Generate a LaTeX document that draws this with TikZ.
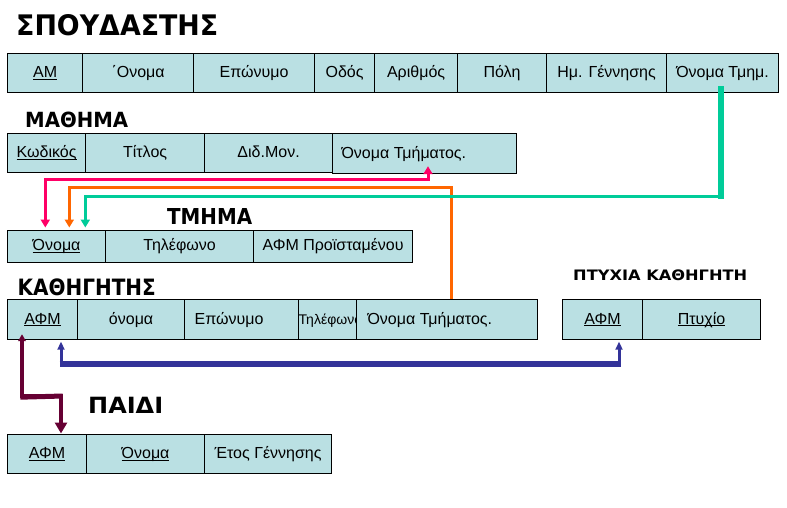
\documentclass[tikz,border=0pt]{standalone}
\usepackage{fontspec}
\usepackage{graphicx}
\setmainfont{Liberation Sans}
\newfontfamily\ttlfont{DejaVu Sans}
\usetikzlibrary{arrows.meta,calc}
\definecolor{cellfill}{RGB}{186,224,227}
\definecolor{pinkc}{RGB}{255,0,102}
\definecolor{orangec}{RGB}{255,102,0}
\definecolor{greenc}{RGB}{0,204,153}
\definecolor{bluec}{RGB}{51,51,153}
\definecolor{maroonc}{RGB}{102,0,51}
\newsavebox\undlbox
\newcommand\undl[1]{\sbox\undlbox{#1}\rlap{\rule[-2.2pt]{\wd\undlbox}{1pt}}\usebox\undlbox}
\newcommand\tcell[7]{\node[cell, anchor=north west, minimum width={(#4-#2)*1pt}, minimum height={(#5-#3)*1pt}] (#1) at (#2,#3) {\makebox[\dimexpr #4pt-#2pt-12pt\relax][#6]{#7}};}
\tikzset{
  cell/.style={draw=black, line width=1.2pt, fill=cellfill, inner xsep=6pt, inner ysep=0pt,
    text height=12.5pt, text depth=3.5pt, font=\fontsize{16}{18}\selectfont},
  ttl/.style={inner sep=0pt, anchor=base west, font=\ttlfont\bfseries},
  conn/.style={line width=3pt},
  tipA/.style={},
}
\begin{document}
\begin{tikzpicture}[x=1pt,y=-1pt]
\path[fill=white] (0,0) rectangle (787,507);
\useasboundingbox (0,0) rectangle (787,507);

% titles
\node[ttl] (tstud) at (16,35) {\resizebox{202pt}{21pt}{ΣΠΟΥΔΑΣΤΗΣ}};
\node[ttl] (tmath) at (25,127.3) {\resizebox{103pt}{15.5pt}{ΜΑΘΗΜΑ}};
\node[ttl] (ttmim) at (167,224.3) {\resizebox{85pt}{16pt}{ΤΜΗΜΑ}};
\node[ttl] (tkath) at (17.5,295) {\resizebox{138pt}{16.7pt}{ΚΑΘΗΓΗΤΗΣ}};
\node[ttl] (tptyx) at (573,280.7) {\resizebox{174pt}{10.7pt}{ΠΤΥΧΙΑ ΚΑΘΗΓΗΤΗ}};
\node[ttl] (tpaid) at (88,413) {\resizebox{75pt}{16.3pt}{ΠΑΙΔΙ}};

% ΣΠΟΥΔΑΣΤΗΣ
\tcell{s1}{7}{53}{82}{92}{c}{\undl{ΑΜ}}
\tcell{s2}{82}{53}{193}{92}{c}{΄Ονομα}
\tcell{s3}{193}{53}{314}{92}{c}{Επώνυμο}
\tcell{s4}{314}{53}{374}{92}{c}{Οδός}
\tcell{s5}{374}{53}{457}{92}{c}{Αριθμός}
\tcell{s6}{457}{53}{546}{92}{c}{Πόλη}
\tcell{s7}{546}{53}{666}{92}{c}{Ημ. Γέννησης}
\tcell{s8}{666}{53}{778}{92}{c}{Όνομα Τμημ.}

% ΜΑΘΗΜΑ
\tcell{m1}{7}{133}{85}{172}{c}{\undl{Κωδικός}}
\tcell{m2}{85}{133}{204}{172}{c}{Τίτλος}
\tcell{m3}{204}{133}{332}{172}{c}{Διδ.Μον.}
\tcell{m4}{332}{133}{516}{173}{l}{\hspace{3pt}Όνομα Τμήματος.}

% ΤΜΗΜΑ
\tcell{t1}{7}{229.5}{105}{261.5}{c}{\undl{Όνομα}}
\tcell{t2}{105}{229.5}{253}{261.5}{c}{Τηλέφωνο}
\tcell{t3}{253}{229.5}{412}{261.5}{c}{ΑΦΜ Προϊσταμένου}

% ΚΑΘΗΓΗΤΗΣ
\tcell{k1}{7}{299}{77}{339}{c}{\undl{ΑΦΜ}}
\tcell{k2}{77}{299}{184}{339}{c}{όνομα}
\tcell{k3}{184}{299}{298}{339}{l}{\hspace{4pt}Επώνυμο}
\tcell{k4}{298}{299}{356}{339}{l}{}
\begin{scope}
\clip (k4.north west) rectangle (k4.south east);
\node[inner sep=0pt, anchor=base west, font=\fontsize{14}{16}\selectfont] (k4t) at ($(k4.west)+(0.5,5)$) {Τηλέφωνο};
\end{scope}
\tcell{k5}{356}{299}{537}{339}{l}{\hspace{5pt}Όνομα Τμήματος.}

% ΠΤΥΧΙΑ ΚΑΘΗΓΗΤΗ
\tcell{p1}{562}{299}{642}{339}{c}{\undl{ΑΦΜ}}
\tcell{p2}{642}{299}{760}{339}{c}{\undl{Πτυχίο}}

% ΠΑΙΔΙ
\tcell{c1}{7}{434}{86}{473}{c}{\undl{ΑΦΜ}}
\tcell{c2}{86}{434}{204}{473}{c}{\undl{Όνομα}}
\tcell{c3}{204}{434}{331}{473}{c}{Έτος Γέννησης}

% connectors
\draw[conn, pinkc, {Triangle[length=8pt,width=9pt]}-{Triangle[length=8pt,width=9pt]}]
  ($(m4.south west)+(96,-8)$) |- ($(t1.north west)+(38.3,-50)$) -- ($(t1.north west)+(38.3,-2)$);
\draw[conn, orangec, -{Triangle[length=8pt,width=9pt]}]
  ($(k5.north west)+(95.7,0)$) |- ($(t1.north west)+(62.3,-42)$) -- ($(t1.north west)+(62.3,-2)$);
\draw[conn, greenc, -{Triangle[length=8pt,width=9pt]}]
  ($(s8.south west)+(55,-7)$) |- ($(t1.north west)+(78.3,-33.2)$) -- ($(t1.north west)+(78.3,-2)$);
\draw[greenc, line width=5.5pt] ($(s8.south west)+(55,-7)$) -- ($(s8.south west)+(55,105.5)$);

\draw[conn, bluec, {Triangle[length=8pt,width=7pt]}-{Triangle[length=8pt,width=7pt]}]
  ($(k1.south west)+(54,1.5)$) |- ($(p1.south west)+(57,24)$) -- ($(p1.south west)+(57,1.5)$);
\draw[bluec, line width=6pt] ($(k1.south west)+(52.5,24)$) -- ($(p1.south west)+(58.5,24)$);

\draw[line width=3.5pt, maroonc, {Triangle[length=7pt,width=7.5pt]}-{Triangle[length=11pt,width=12pt]}]
  ($(k1.south west)+(15,-6)$) |- ($(c1.north west)+(54,-38)$) -- ($(c1.north west)+(54,-0.5)$);
\draw[maroonc, line width=5pt] ($(k1.south west)+(13.25,57)$) -- ($(c1.north west)+(55.75,-38)$);
\end{tikzpicture}
\end{document}
